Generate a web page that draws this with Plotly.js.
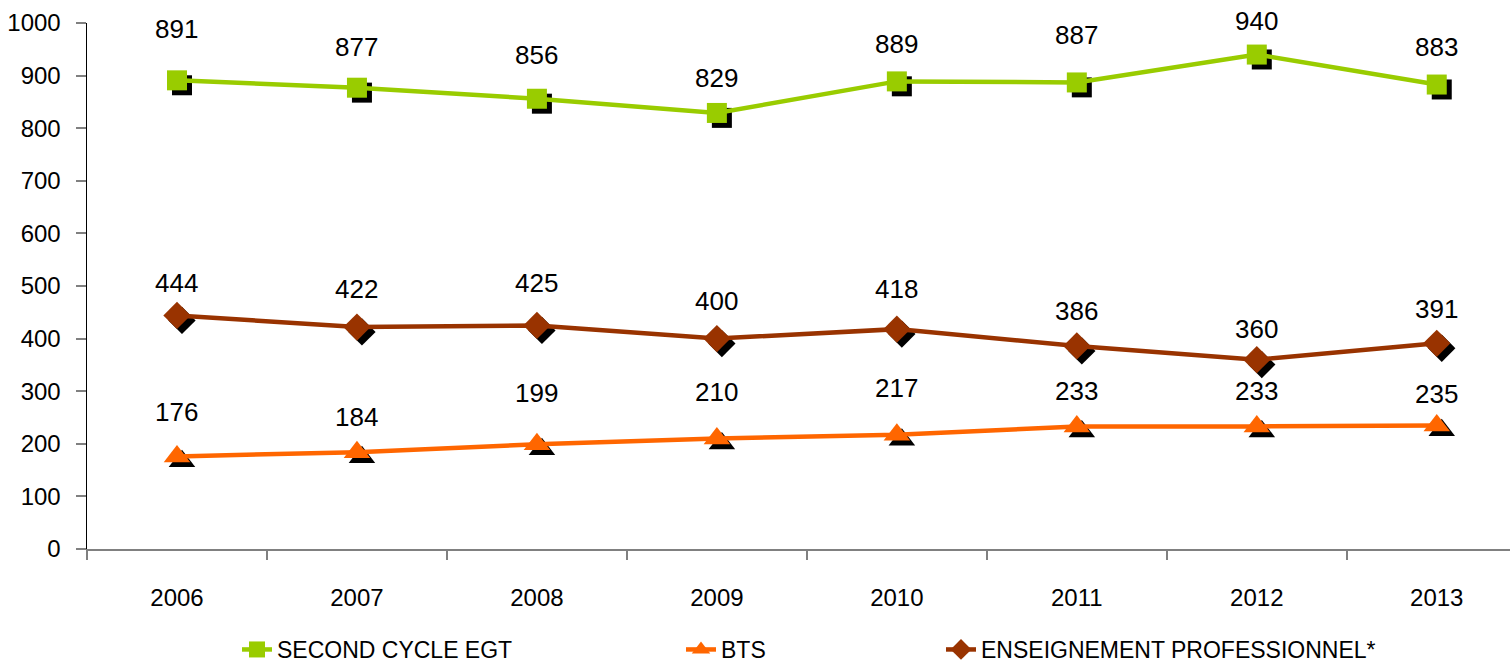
<!DOCTYPE html>
<html>
<head>
<meta charset="utf-8">
<script src="https://cdn.plot.ly/plotly-3.0.1.min.js"></script>
<style>html,body{margin:0;padding:0;background:#fff;}#chart{width:1510px;height:671px;}</style>
</head>
<body>
<div id="chart"></div>
<script>
// ---- data ----
const years = ["2006","2007","2008","2009","2010","2011","2012","2013"];
const secondCycleEGT = [891, 877, 856, 829, 889, 887, 940, 883];
const bts = [176, 184, 199, 210, 217, 233, 233, 235];
const enseignementPro = [444, 422, 425, 400, 418, 386, 360, 391];
const seriesNames = ["SECOND CYCLE EGT", "BTS", "ENSEIGNEMENT PROFESSIONNEL*"];

// label vertical offsets (pixels above point) — styling only
const offGreen = [51, 41, 44, 35, 37, 47, 34, 38];
const offOrange = [44, 35, 51, 47, 47, 35, 35, 31];
const offBrown = [32, 38, 42, 38, 40, 35, 31, 34];

// pick a narrow font if one is installed, else Arial-metric Liberation Sans
function hasFont(name) {
  const c = document.createElement('canvas').getContext('2d');
  const s = 'SECOND CYCLE 0123456789';
  c.font = '40px monospace'; const a = c.measureText(s).width;
  c.font = '40px "' + name + '", monospace'; const b = c.measureText(s).width;
  return Math.abs(a - b) > 0.5;
}
const narrow = hasFont('Liberation Sans Narrow');
const FONT = narrow ? '"Liberation Sans Narrow", sans-serif' : '"Liberation Sans", Arial, sans-serif';
const FS_TICK = narrow ? 26 : 24;
const FS_LABEL = narrow ? 27 : 26;
const FS_LEG = narrow ? 25 : 23;

const W = 1510, H = 671, ML = 87, MR = 0, MT = 23, MB = 115;
const xr = [-0.5, 7.407], yr = [0, 1000];
const plotW = W - ML - MR, plotH = H - MT - MB;
const dx = 5 * (xr[1] - xr[0]) / plotW;   // 5px shadow shift
const dy = 5 * (yr[1] - yr[0]) / plotH;

const colors = ["#99CC00", "#FF6600", "#993300"];
const symbols = ["square", "triangle-up", "diamond"];
const sizes = [20, 23, 21];
const series = [secondCycleEGT, bts, enseignementPro];
const offs = [offGreen, offOrange, offBrown];

const traces = [];
// shadows on the (hidden) base axes, drawn first
series.forEach((s, i) => {
  traces.push({
    x: years, y: s, type: 'scatter', mode: 'markers', xaxis: 'x', yaxis: 'y',
    marker: {symbol: symbols[i], size: sizes[i], color: '#000000'},
    showlegend: false, hoverinfo: 'skip'
  });
});
// real series on the visible overlay axes
series.forEach((s, i) => {
  traces.push({
    x: years, y: s, type: 'scatter', mode: 'lines+markers', xaxis: 'x2', yaxis: 'y2',
    name: seriesNames[i],
    line: {color: colors[i], width: 4.5},
    marker: {symbol: symbols[i], size: sizes[i], color: colors[i]},
    legend: i === 0 ? 'legend' : ('legend' + (i + 1))
  });
});

const annotations = [];
series.forEach((s, i) => {
  s.forEach((v, j) => {
    annotations.push({
      xref: 'x2', yref: 'y2', x: j, y: v, text: String(v),
      showarrow: false, yanchor: 'middle', xanchor: 'center', yshift: offs[i][j],
      font: {family: FONT, size: FS_LABEL, color: '#000'}
    });
  });
});

const legendY = (MT + plotH - 658) / plotH;
const legBase = {orientation: 'h', y: legendY, yanchor: 'middle', xanchor: 'left',
  font: {family: FONT, size: FS_LEG, color: '#000'}, bgcolor: 'rgba(0,0,0,0)', borderwidth: 0};

const layout = {
  width: W, height: H,
  margin: {l: ML, r: MR, t: MT, b: MB, pad: 0},
  paper_bgcolor: '#fff', plot_bgcolor: '#fff',
  showlegend: true,
  xaxis: {type: 'category', range: [xr[0] - dx, xr[1] - dx], visible: false, fixedrange: true},
  yaxis: {range: [yr[0] + dy, yr[1] + dy], visible: false, fixedrange: true},
  xaxis2: {type: 'category', overlaying: 'x', anchor: 'y2', side: 'bottom', range: xr,
    showline: true, linecolor: '#808080', linewidth: 2, showgrid: false, zeroline: false,
    ticks: 'outside', tickson: 'boundaries', ticklen: 9, tickcolor: '#808080', tickwidth: 2,
    tickfont: {family: FONT, size: FS_TICK, color: '#000'}, ticklabelstandoff: 26},
  yaxis2: {overlaying: 'y', anchor: 'x2', side: 'left', range: yr, dtick: 100,
    showline: true, linecolor: '#000', linewidth: 1.5, showgrid: false, zeroline: false,
    ticks: 'outside', ticklen: 10, tickcolor: '#808080', tickwidth: 2,
    tickfont: {family: FONT, size: FS_TICK, color: '#000'}, ticklabelstandoff: 10},
  legend: Object.assign({}, legBase, {x: (237 - ML) / plotW}),
  legend2: Object.assign({}, legBase, {x: (681 - ML) / plotW}),
  legend3: Object.assign({}, legBase, {x: (941 - ML) / plotW}),
  annotations: annotations
};

Plotly.newPlot('chart', traces, layout, {displayModeBar: false, staticPlot: true});
</script>
</body>
</html>
